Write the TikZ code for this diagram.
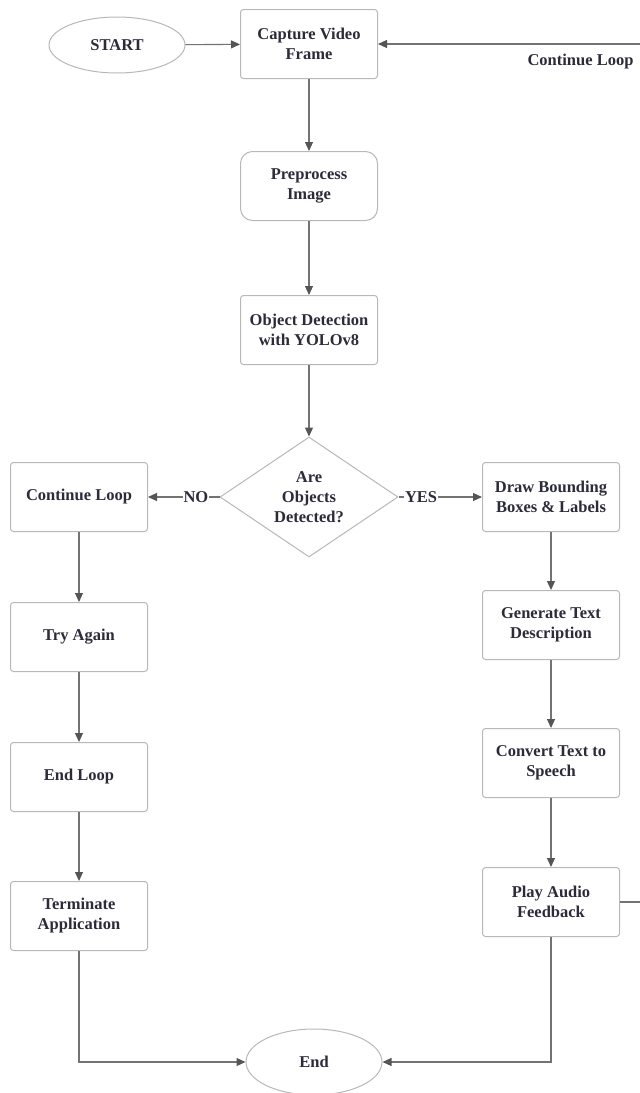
\documentclass[tikz,border=0pt]{standalone}
\usepackage{fontspec}
\setmainfont{Liberation Serif}[BoldFont={Liberation Serif Bold}]
\usetikzlibrary{arrows.meta,shapes.geometric,positioning}
\definecolor{bordc}{HTML}{B8B8B8}
\definecolor{linec}{HTML}{737373}
\definecolor{tipc}{HTML}{555555}
\definecolor{txtc}{HTML}{2B2B3A}
\tikzset{
  base/.style={draw=bordc, line width=1pt, fill=white, text=txtc, font=\fontsize{16.5}{20}\selectfont\bfseries, align=center},
  procbox/.style={base, rectangle, rounded corners=3pt, minimum width=137pt, minimum height=69pt, inner sep=2pt},
  softbox/.style={procbox, rounded corners=12pt},
  termin/.style={base, ellipse, minimum width=136pt, minimum height=56pt},
  decis/.style={base, diamond, minimum width=178pt, minimum height=120pt, aspect=1.48, inner sep=0pt},
  conn/.style={draw=linec, line width=1.1pt, -{Triangle[length=9pt,width=8pt,color=tipc]}},
  plain/.style={draw=linec, line width=1.1pt},
  lbl/.style={text=txtc, font=\fontsize{16.5}{20}\selectfont\bfseries, fill=white, inner sep=1pt}
}
\begin{document}
\begin{tikzpicture}[x=1pt,y=-1pt]
\useasboundingbox (0,0) rectangle (640,1093);
\node[termin] (start) at (117,45) {START};
\node[procbox] (capture) at (309,44) {Capture Video\\Frame};
\node[softbox] (pre) at (309,186) {Preprocess\\Image};
\node[procbox] (det) at (309,330) {Object Detection\\with YOLOv8};
\node[decis] (dec) at (309,497) {Are\\Objects\\Detected?};
\node[procbox] (cont) at (79,497) {Continue Loop};
\node[procbox] (try) at (79,637) {Try Again};
\node[procbox] (endl) at (79,777) {End Loop};
\node[procbox] (term) at (79,916) {Terminate\\Application};
\node[procbox] (draw) at (551,497) {Draw Bounding\\Boxes \& Labels};
\node[procbox] (gen) at (551,625) {Generate Text\\Description};
\node[procbox] (conv) at (551,763) {Convert Text to\\Speech};
\node[procbox] (play) at (551,902) {Play Audio\\Feedback};
\node[termin, minimum height=66pt] (end) at (314,1062) {End};
\coordinate (loopin) at (641,44);
\coordinate (loopout) at (641,902);

\draw[conn] (start) -- (capture);
\draw[conn] (loopin) -- node[lbl, below=8pt, pos=0.23, fill=none] {Continue Loop} (capture.east);
\draw[conn] (capture) -- (pre);
\draw[conn] (pre) -- (det);
\draw[conn] (det) -- (dec);
\draw[conn] (dec.west) -- node[lbl, pos=0.33] {NO} (cont.east);
\draw[conn] (dec.east) -- node[lbl, pos=0.27] {YES} (draw.west);
\draw[conn] (cont) -- (try);
\draw[conn] (try) -- (endl);
\draw[conn] (endl) -- (term);
\draw[conn] (draw) -- (gen);
\draw[conn] (gen) -- (conv);
\draw[conn] (conv) -- (play);
\draw[conn] (term.south) |- (end.west);
\draw[conn] (play.south) |- (end.east);
\draw[plain] (play.east) -- (loopout);
\end{tikzpicture}
\end{document}
